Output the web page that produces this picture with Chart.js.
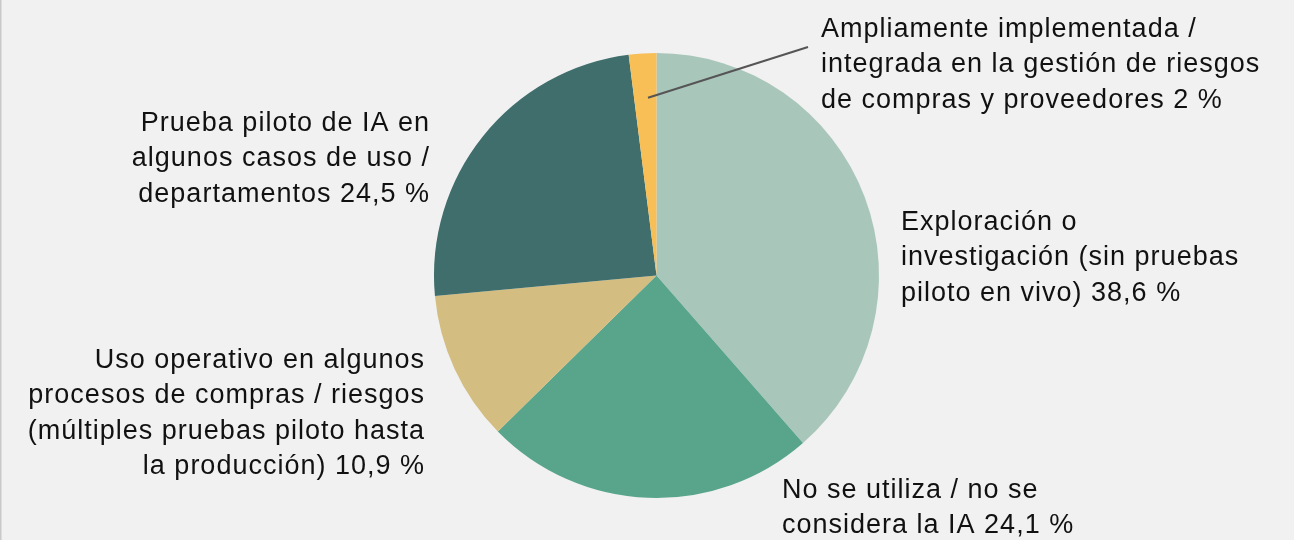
<!DOCTYPE html>
<html lang="es">
<head>
<meta charset="utf-8">
<script src="https://cdn.jsdelivr.net/npm/chart.js@4/dist/chart.umd.min.js"></script>
<style>
  html, body { margin: 0; padding: 0; background: #f1f1f1; overflow: hidden; }
  canvas { display: block; }
</style>
</head>
<body>
<canvas id="c" width="1294" height="540"></canvas>
<script>
const categories = [
  ["Exploración o", "investigación (sin pruebas", "piloto en vivo) 38,6 %"],
  ["No se utiliza / no se", "considera la IA 24,1 %"],
  ["Uso operativo en algunos", "procesos de compras / riesgos", "(múltiples pruebas piloto hasta", "la producción) 10,9 %"],
  ["Prueba piloto de IA en", "algunos casos de uso /", "departamentos 24,5 %"],
  ["Ampliamente implementada /", "integrada en la gestión de riesgos", "de compras y proveedores 2 %"]
];
const values = [38.6, 24.1, 10.9, 24.5, 2];
const colors = ["#a9c6bb", "#58a58c", "#d4bd80", "#3f6e6c", "#f8bf57"];

// label layout: anchor x, first baseline y, alignment
const labelLayout = [
  { x: 901, y: 230, align: "left" },
  { x: 782, y: 498, align: "left" },
  { x: 424, y: 368, align: "right" },
  { x: 429, y: 131, align: "right" },
  { x: 821, y: 37, align: "left" }
];
const lineGap = 35.3;
const FONT = "27px 'Liberation Sans', Arial, sans-serif";
const SPACING = 1.0;

const bgPlugin = {
  id: "bg",
  beforeDraw(chart) {
    const ctx = chart.ctx;
    ctx.save();
    ctx.fillStyle = "#f1f1f1";
    ctx.fillRect(0, 0, chart.width, chart.height);
    ctx.fillStyle = "#c9c9c9";
    ctx.fillRect(0, 0, 1.5, chart.height);
    ctx.restore();
  }
};

const labelPlugin = {
  id: "labels",
  afterDraw(chart) {
    const ctx = chart.ctx;
    const meta = chart.getDatasetMeta(0);
    ctx.save();
    // leader line for the small slice
    const arc = meta.data[4];
    const p = arc.getProps(["x", "y", "startAngle", "endAngle", "outerRadius"], true);
    const mid = (p.startAngle + p.endAngle) / 2 + 0.015;
    const sx = p.x + Math.cos(mid) * p.outerRadius * 0.8;
    const sy = p.y + Math.sin(mid) * p.outerRadius * 0.8;
    ctx.strokeStyle = "#555555";
    ctx.lineWidth = 2;
    ctx.beginPath();
    ctx.moveTo(sx, sy);
    ctx.lineTo(labelLayout[4].x - 13, labelLayout[4].y + 10);
    ctx.stroke();

    ctx.font = FONT;
    ctx.fillStyle = "#111111";
    ctx.textBaseline = "alphabetic";
    try { ctx.letterSpacing = SPACING + "px"; } catch (e) {}
    categories.forEach((lines, i) => {
      const L = labelLayout[i];
      lines.forEach((t, j) => {
        const w = ctx.measureText(t).width;
        let x = L.align === "right" ? L.x - w + SPACING : L.x;
        ctx.textAlign = "left";
        ctx.fillText(t, x, L.y + j * lineGap);
      });
    });
    ctx.restore();
  }
};

new Chart(document.getElementById("c"), {
  type: "pie",
  data: {
    labels: categories.map(l => l.join(" ")),
    datasets: [{
      data: values,
      backgroundColor: colors,
      borderWidth: 0,
      hoverOffset: 0
    }]
  },
  options: {
    responsive: false,
    animation: false,
    layout: { padding: { top: 53, bottom: 42, left: 19, right: 0 } },
    plugins: {
      legend: { display: false },
      tooltip: { enabled: false }
    },
    events: []
  },
  plugins: [bgPlugin, labelPlugin]
});
</script>
</body>
</html>
